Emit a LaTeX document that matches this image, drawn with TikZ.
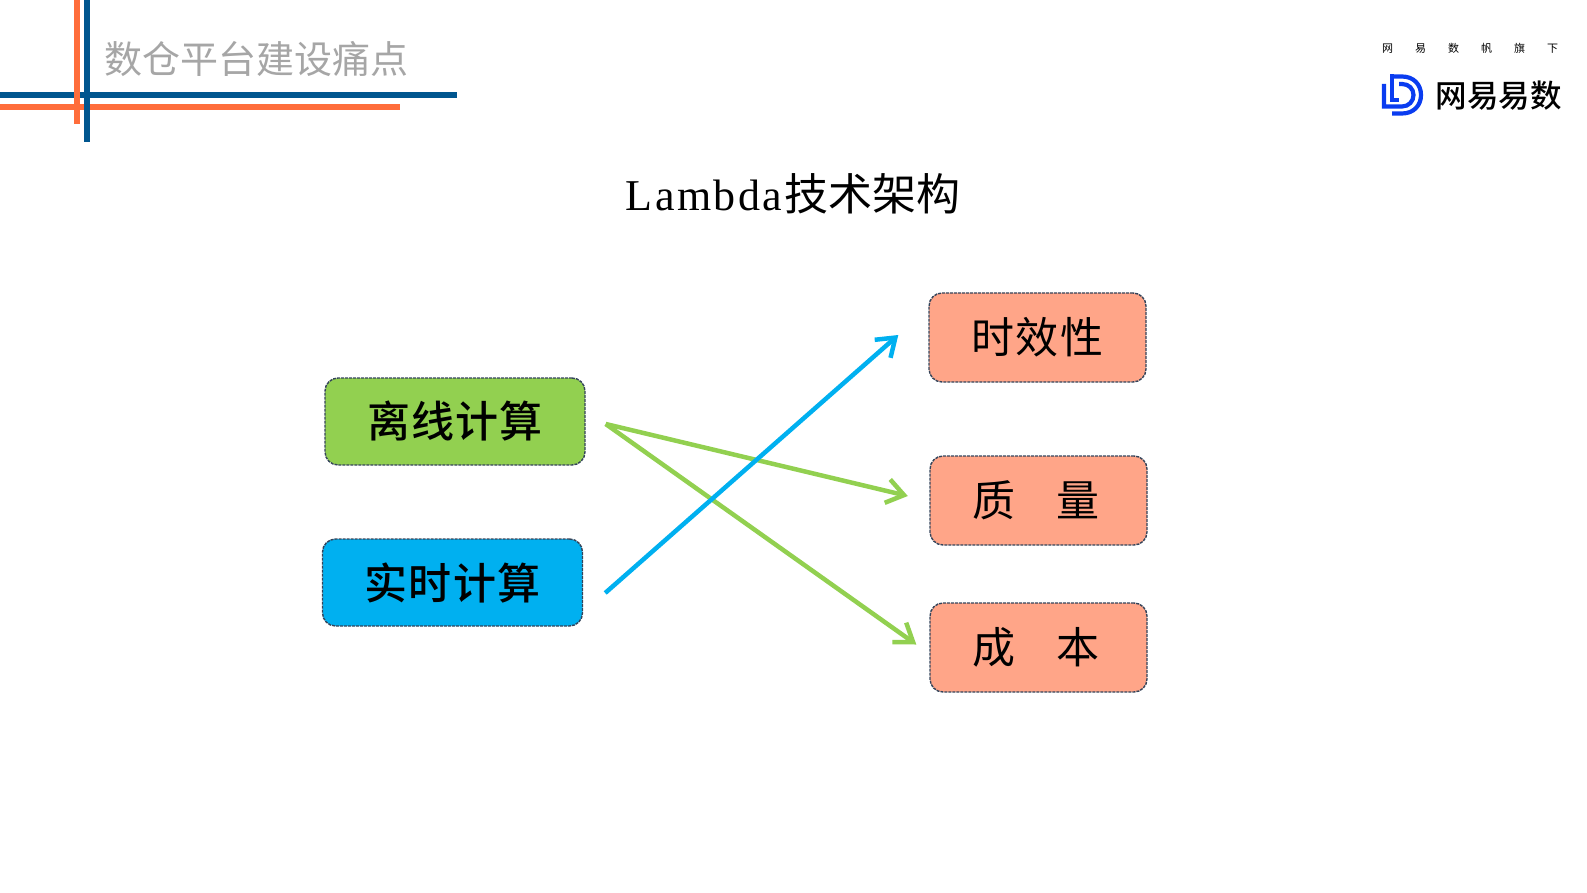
\documentclass[tikz,border=0pt]{standalone}
\usepackage{fontspec}
\setmainfont{Liberation Serif}
\newfontfamily\cjk{Noto Sans CJK SC}
\newfontfamily\cjkspaced[LetterSpace=3]{Noto Sans CJK SC}
\newfontfamily\cjkmedium[LetterSpace=3]{Noto Sans CJK SC Medium}
\newfontfamily\brandfont{Noto Sans CJK SC Medium}
\newfontfamily\latinspaced[LetterSpace=5.5]{Liberation Serif}
\usetikzlibrary{arrows.meta}
\definecolor{barorange}{HTML}{FF6D3B}
\definecolor{barblue}{HTML}{00568F}
\definecolor{boxline}{HTML}{34445A}
\definecolor{offlinegreen}{HTML}{92D050}
\definecolor{realtimeblue}{HTML}{00B0F0}
\definecolor{targetorange}{HTML}{FFA588}
\definecolor{logoblue}{HTML}{0A3CF0}
\tikzset{
  box/.style={rectangle, draw=boxline, dash pattern=on 3pt off 1pt, line width=1.4pt, rounded corners=13pt, inner sep=0pt, font=\fontsize{43}{43}\cjkspaced},
  source/.style={box, minimum width=260pt, minimum height=87pt, font=\fontsize{43}{43}\cjkmedium},
  target/.style={box, fill=targetorange, minimum width=217pt, minimum height=89pt},
  link/.style={line width=4.5pt, -{Straight Barb[length=17pt,width=24pt,line width=4.5pt]}},
  bar/.style={line width=6pt},
  logoline/.style={logoblue, line width=4.2pt}
}
\begin{document}
\begin{tikzpicture}[x=1pt,y=-1pt]
    \useasboundingbox (0,0) rectangle (1587,893);
    % header bars
    \draw [bar, barblue] (0,95) -- (457,95);
    \draw [bar, barorange] (0,107) -- (400,107);
    \draw [bar, barorange] (77,0) -- (77,124);
    \draw [bar, barblue] (87,0) -- (87,142);
    \node (heading) [anchor=west, text=black!35, font=\fontsize{38}{38}\cjk, inner sep=0pt] at (104,59) {数仓平台建设痛点};

    % logo
    \node (tagline) [anchor=center, font=\fontsize{11}{11}\cjk, inner sep=0pt] at (1470,48) {网\hspace{22pt}易\hspace{22pt}数\hspace{22pt}帆\hspace{22pt}旗\hspace{22pt}下};
    \draw [logoline] (1392,76.5) -- (1402,76.5) .. controls (1414,76.5) and (1421,85) .. (1421,95) .. controls (1421,105) and (1414,113.5) .. (1402,113.5) -- (1392,113.5);
    \draw [logoline] (1392,74.5) -- (1392,100) -- (1399,100);
    \draw [logoline] (1384,84) -- (1384,106.5) -- (1402,106.5) .. controls (1409,106.5) and (1413.5,101) .. (1413.5,95) .. controls (1413.5,89) and (1409,84) .. (1402,84) -- (1399,84);
    \node (brand) [anchor=west, font=\fontsize{31.5}{31.5}\brandfont, inner sep=0pt] at (1435.5,96) {网易易数};

    \node (title) [inner sep=0pt] at (793,193.5) {\fontsize{44}{44}\latinspaced Lambda\kern2pt\cjk 技术架构};

    \node (offline) [source, fill=offlinegreen] at (455,421.5) {离线计算};
    \node (realtime) [source, fill=realtimeblue] at (452.5,582.5) {实时计算};
    \node (timeliness) [target] at (1037.5,337.5) {时效性};
    \node (quality) [target, font=\fontsize{43}{43}\cjk] at (1038.5,500.5) {质\kern-2pt　量\kern6pt};
    \node (cost) [target, font=\fontsize{43}{43}\cjk] at (1038.5,647.5) {成\kern-2pt　本\kern6pt};

    \draw [link, offlinegreen] ([shift={(20,2.5)}]offline.east) -- ([shift={(-21.5,-4.5)}]quality.west);
    \draw [link, offlinegreen] ([shift={(20,2.5)}]offline.east) -- ([shift={(-13,-3)}]cost.west);
    \draw [link, realtimeblue] ([shift={(22,10.5)}]realtime.east) -- ([shift={(-30,-2.5)}]timeliness.west);
\end{tikzpicture}
\end{document}
